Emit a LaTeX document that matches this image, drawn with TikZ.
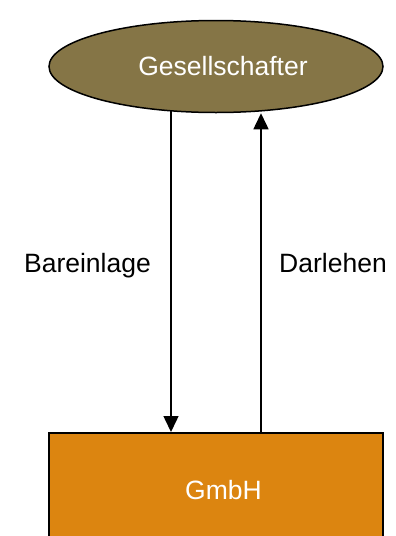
\documentclass[tikz,border=0pt]{standalone}
\usepackage{fontspec}
\setmainfont{Liberation Sans}
\usetikzlibrary{shapes.geometric,arrows.meta,backgrounds}
\definecolor{olivebrown}{HTML}{857546}
\definecolor{orangebox}{HTML}{DC8510}
\tikzset{
  shapebox/.style={draw=black,line width=1.5pt,inner sep=0pt},
  conn/.style={line width=1.5pt,-{Triangle[length=16pt,width=15pt]}},
  lbl/.style={font=\fontsize{26.5}{30}\selectfont,text=black,inner sep=0pt,anchor=base}
}
\begin{document}
\begin{tikzpicture}[x=1pt,y=-1pt]
\useasboundingbox (0,0) rectangle (396,536);
\clip (0,0) rectangle (396,536);
\node[shapebox,ellipse,fill=olivebrown,minimum width=334pt,minimum height=92pt] (g) at (216,66.5) {};
\node[lbl,text=white] (gt) at (223,75) {Gesellschafter};
\node[shapebox,rectangle,fill=orangebox,minimum width=334pt,minimum height=140pt,anchor=north] (m) at (216,432) {};
\node[lbl,text=white] (mt) at (223.5,499) {GmbH};
\coordinate (a1) at (171,0);
\coordinate (a2) at (261,0);
\begin{pgfonlayer}{background}
\draw[conn] (g.center -| a1) -- (m.north -| a1);
\draw[conn] (m.center -| a2) -- (g.south -| a2);
\end{pgfonlayer}
\node[lbl] (l1) at (87.5,272.3) {Bareinlage};
\node[lbl] (l2) at (333,272.3) {Darlehen};
\end{tikzpicture}
\end{document}
